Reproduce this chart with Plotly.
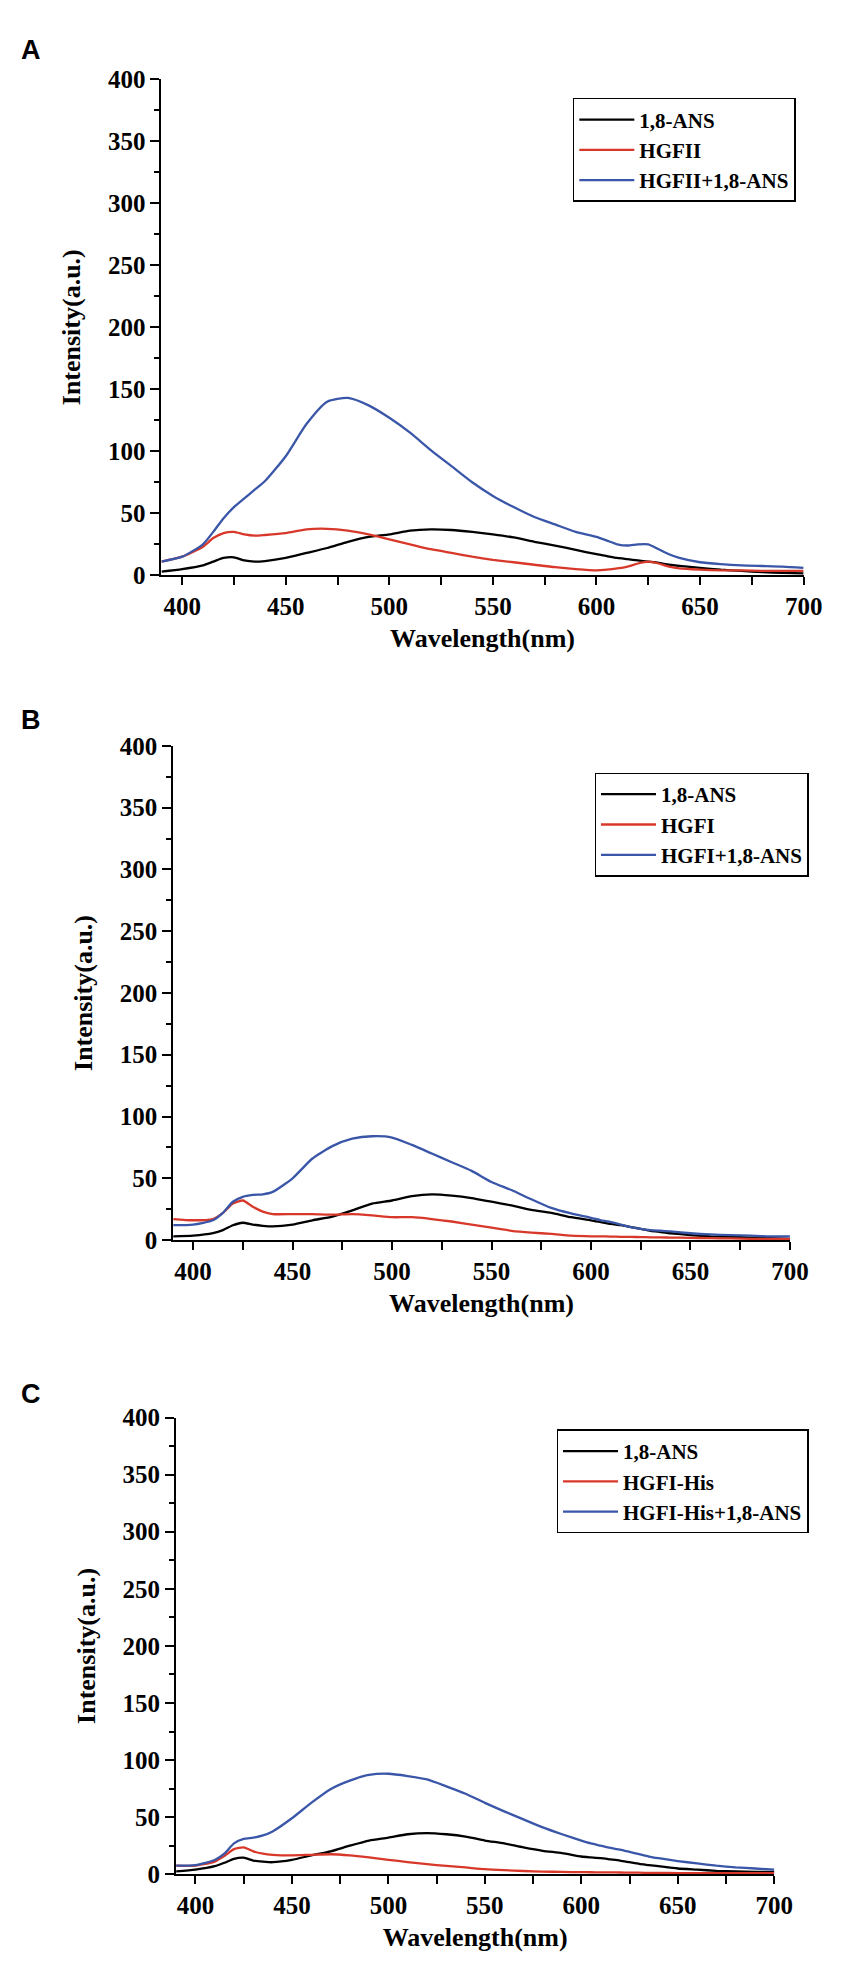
import plotly.graph_objects as go

W, H = 842, 1967

# wavelength grid (nm) shared by all spectra
wavelength = [390, 400, 410, 415, 420, 425, 430, 435, 440, 450, 460, 470, 480, 490,
              500, 510, 520, 530, 540, 550, 560, 570, 580, 590, 600, 605, 610, 615,
              620, 625, 630, 635, 640, 650, 660, 670, 680, 690, 700]

# panel A
ans_a = [3, 5, 8, 11, 14, 14.5, 12, 11, 11.5, 14, 18, 22, 27, 31,
         33, 36, 37, 36.5, 35, 33, 30.5, 27, 24, 20.5, 17, 15.5, 14, 13,
         12, 11, 10, 8.5, 7.5, 6, 4.5, 3.5, 2.5, 2, 1.5]
hgfii = [11, 15, 23, 30, 34, 35, 33, 32, 32.5, 34, 37, 37.5, 36, 33,
         29, 25, 21, 18, 15, 12.5, 10.5, 8.5, 6.5, 5, 4, 4.5, 5.5, 7,
         9.5, 11, 9.5, 7, 5.5, 4.5, 4, 4, 3.5, 3.5, 3.5]
hgfii_ans = [11, 15, 25, 35, 46, 55, 62, 69, 76, 96, 122, 140, 143, 137,
             127, 115, 101, 88, 75, 64, 55, 47, 41, 35, 31, 28, 25, 24,
             25, 25, 21, 17, 14, 10.5, 9, 8, 7.5, 7, 6]

# panel B
ans_b = [3, 3.5, 5.5, 8, 12, 14, 12.5, 11.5, 11, 12.5, 16, 19, 24, 29.5,
         32, 35.5, 37, 36, 34, 31, 28, 24.5, 22, 18.5, 16, 14.5, 13, 12,
         10.5, 9, 7.5, 6.5, 5.5, 4, 3, 2.5, 2, 1.5, 1]
hgfi = [17, 16, 17, 22, 29.5, 32, 27, 23, 21, 21, 21, 20.5, 21, 20,
        18.5, 18.5, 17, 15, 12.5, 10, 7.5, 6, 5, 3.5, 3, 3, 2.8, 2.6,
        2.5, 2.4, 2.2, 2.1, 2, 1.8, 1.5, 1.3, 1, 1, 1]
hgfi_ans = [12, 12.5, 16, 22, 31, 35, 36.5, 37, 39, 50, 66, 76, 82, 84,
            83, 77, 70, 63, 56, 47, 40.5, 33, 26, 21.5, 18, 16, 14.5, 12.5,
            10.5, 9, 8, 7.5, 7, 5.5, 4.5, 4, 3.5, 3, 3]

# panel C
ans_c = [2.5, 4, 7, 10, 13.5, 14.5, 12, 11, 10.5, 12.5, 16.5, 20, 25, 29.5,
         32, 35, 36, 35, 33, 29.5, 27, 23.5, 20.5, 18.5, 15.5, 14.7, 14, 13,
         12, 10.5, 9, 8, 7, 5, 4, 3, 2.5, 2, 2]
hgfi_his = [7.5, 7.5, 11, 16, 22, 23.5, 20, 18, 17, 16.5, 17, 17.5, 16.5, 14.7,
            12.6, 10.6, 8.8, 7.3, 5.9, 4.4, 3.5, 2.8, 2.3, 2, 1.8, 1.7, 1.6, 1.6,
            1.5, 1.4, 1.3, 1.2, 1.1, 1, 1, 1, 1, 1, 1]
hgfi_his_ans = [7.5, 8, 12.5, 18, 27, 31, 32, 34, 37.5, 49, 62.5, 74.5, 82, 87,
                88, 86, 83, 77, 70.5, 62.5, 55, 48, 41, 35, 29.5, 27, 25, 23,
                21.5, 19.5, 17.5, 15.5, 14, 11.5, 9.5, 7.5, 6, 5, 4]

labels_a = ["1,8-ANS", "HGFII", "HGFII+1,8-ANS"]
labels_b = ["1,8-ANS", "HGFI", "HGFI+1,8-ANS"]
labels_c = ["1,8-ANS", "HGFI-His", "HGFI-His+1,8-ANS"]
panel_letters = ["A", "B", "C"]

x_ticks = [400, 450, 500, 550, 600, 650, 700]
y_ticks = [0, 50, 100, 150, 200, 250, 300, 350, 400]

colors = ["#000000", "#d8382a", "#3a56a8"]
SERIF = "Liberation Serif"

# pixel boxes of the plot areas: (left, right, top, bottom), legend (right, top), letter y
panels = [
    dict(box=(157, 814, 59, 562), legend=(806, 78), letter_y=29,
         series=[ans_a, hgfii, hgfii_ans], labels=labels_a),
    dict(box=(169, 800, 735, 1236), legend=(819, 762), letter_y=709,
         series=[ans_b, hgfi, hgfi_ans], labels=labels_b),
    dict(box=(172, 784, 1416, 1879), legend=(819, 1428), letter_y=1392,
         series=[ans_c, hgfi_his, hgfi_his_ans], labels=labels_c),
]


def fx(px):
    return px / W


def fy(py):
    return 1 - py / H


fig = go.Figure()
layout = dict(
    width=W, height=H,
    margin=dict(l=0, r=0, t=0, b=0),
    paper_bgcolor="white", plot_bgcolor="white",
    font=dict(family=SERIF, color="black"),
    annotations=[],
)

for i, p in enumerate(panels):
    n = "" if i == 0 else str(i + 1)
    left, right, top, bottom = p["box"]
    leg = "legend" + n
    for ys, name, col in zip(p["series"], p["labels"], colors):
        fig.add_trace(go.Scatter(
            x=wavelength, y=ys, mode="lines", name=name,
            line=dict(color=col, width=2.3, shape="spline", smoothing=0.6),
            xaxis="x" + n, yaxis="y" + n, legend=leg,
        ))

    layout["xaxis" + n] = dict(
        domain=[fx(left), fx(right)], anchor="y" + n,
        range=[390, 700], tickmode="array", tickvals=x_ticks,
        showline=True, linecolor="black", linewidth=2,
        ticks="outside", ticklen=8, tickwidth=2, tickcolor="black",
        minor=dict(tickmode="linear", tick0=375, dtick=25, ticks="outside",
                   ticklen=8, tickwidth=1.5, tickcolor="black"),
        tickfont=dict(family=SERIF, size=25, weight="bold"),
        title=dict(text="Wavelength(nm)", standoff=10,
                   font=dict(family=SERIF, size=26, weight="bold")),
        showgrid=False, zeroline=False,
    )
    layout["yaxis" + n] = dict(
        domain=[fy(bottom), fy(top)], anchor="x" + n,
        range=[0, 400], tickmode="array", tickvals=y_ticks,
        showline=True, linecolor="black", linewidth=2,
        ticks="outside", ticklen=9, tickwidth=2, tickcolor="black",
        minor=dict(tickmode="linear", tick0=0, dtick=25, ticks="outside",
                   ticklen=5, tickwidth=1.5, tickcolor="black"),
        tickfont=dict(family=SERIF, size=25, weight="bold"),
        title=dict(text="Intensity(a.u.)", standoff=20,
                   font=dict(family=SERIF, size=26, weight="bold")),
        showgrid=False, zeroline=False,
    )
    lx, ly = p["legend"]
    layout[leg] = dict(
        x=fx(lx), y=fy(ly), xanchor="right", yanchor="top",
        bgcolor="white", bordercolor="black", borderwidth=1.5,
        font=dict(family=SERIF, size=21, weight="bold"),
        itemwidth=55, tracegroupgap=0,
    )
    layout["annotations"].append(dict(
        text=panel_letters[i], x=fx(24), y=fy(p["letter_y"]),
        xref="paper", yref="paper", showarrow=False,
        xanchor="center", yanchor="middle",
        font=dict(family="Liberation Sans", size=27, weight="bold", color="black"),
    ))

fig.update_layout(**layout)
fig.write_html("out.html")
